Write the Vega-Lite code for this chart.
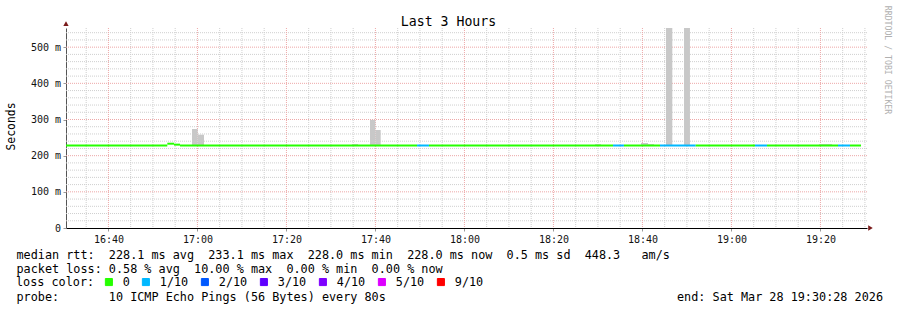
{
  "$schema": "https://vega.github.io/schema/vega-lite/v6.json",
  "width": 801,
  "height": 200,
  "autosize": {"type": "none"},
  "padding": {"left": 66, "top": 28, "right": 30, "bottom": 82},
  "background": "white",
  "config": {"view": {"stroke": null}, "font": "DejaVu Sans Mono"},
  "datasets": {
    "median": [
      {"start": "2026-03-28T16:30:28Z", "end": "2026-03-28T16:53:14Z", "rtt": 228.1, "loss": "0"},
      {"start": "2026-03-28T16:53:14Z", "end": "2026-03-28T16:54:44Z", "rtt": 233.1, "loss": "0"},
      {"start": "2026-03-28T16:54:44Z", "end": "2026-03-28T16:56:05Z", "rtt": 230.5, "loss": "0"},
      {"start": "2026-03-28T16:56:05Z", "end": "2026-03-28T17:49:21Z", "rtt": 228.1, "loss": "0"},
      {"start": "2026-03-28T17:49:21Z", "end": "2026-03-28T17:52:02Z", "rtt": 228.1, "loss": "1/10"},
      {"start": "2026-03-28T17:52:02Z", "end": "2026-03-28T18:33:23Z", "rtt": 228.1, "loss": "0"},
      {"start": "2026-03-28T18:33:23Z", "end": "2026-03-28T18:35:51Z", "rtt": 228.1, "loss": "1/10"},
      {"start": "2026-03-28T18:35:51Z", "end": "2026-03-28T18:43:57Z", "rtt": 228.1, "loss": "0"},
      {"start": "2026-03-28T18:43:57Z", "end": "2026-03-28T18:51:58Z", "rtt": 228.1, "loss": "1/10"},
      {"start": "2026-03-28T18:51:58Z", "end": "2026-03-28T19:05:18Z", "rtt": 228.1, "loss": "0"},
      {"start": "2026-03-28T19:05:18Z", "end": "2026-03-28T19:08:00Z", "rtt": 228.1, "loss": "1/10"},
      {"start": "2026-03-28T19:08:00Z", "end": "2026-03-28T19:23:57Z", "rtt": 228.1, "loss": "0"},
      {"start": "2026-03-28T19:23:57Z", "end": "2026-03-28T19:26:39Z", "rtt": 228.1, "loss": "1/10"},
      {"start": "2026-03-28T19:26:39Z", "end": "2026-03-28T19:29:07Z", "rtt": 228.1, "loss": "0"}
    ],
    "smoke": [
      {"start": "2026-03-28T16:58:47Z", "end": "2026-03-28T17:00:04Z", "lo": 226.5, "hi": 274},
      {"start": "2026-03-28T17:00:04Z", "end": "2026-03-28T17:01:29Z", "lo": 226.5, "hi": 258},
      {"start": "2026-03-28T17:34:44Z", "end": "2026-03-28T17:36:05Z", "lo": 226.5, "hi": 232},
      {"start": "2026-03-28T17:38:47Z", "end": "2026-03-28T17:39:59Z", "lo": 226.5, "hi": 299},
      {"start": "2026-03-28T17:39:59Z", "end": "2026-03-28T17:41:11Z", "lo": 226.5, "hi": 271},
      {"start": "2026-03-28T18:29:21Z", "end": "2026-03-28T18:30:41Z", "lo": 226.5, "hi": 232},
      {"start": "2026-03-28T18:39:41Z", "end": "2026-03-28T18:41:15Z", "lo": 226.5, "hi": 235},
      {"start": "2026-03-28T18:41:15Z", "end": "2026-03-28T18:42:36Z", "lo": 226.5, "hi": 232},
      {"start": "2026-03-28T18:45:18Z", "end": "2026-03-28T18:46:43Z", "lo": 226.5, "hi": 700},
      {"start": "2026-03-28T18:49:21Z", "end": "2026-03-28T18:50:41Z", "lo": 226.5, "hi": 700},
      {"start": "2026-03-28T19:19:41Z", "end": "2026-03-28T19:22:36Z", "lo": 226.5, "hi": 232}
    ],
    "gridMinorX": [
      {"t": "2026-03-28T16:35:00Z"}, {"t": "2026-03-28T16:45:00Z"}, {"t": "2026-03-28T16:50:00Z"}, {"t": "2026-03-28T16:55:00Z"},
      {"t": "2026-03-28T17:05:00Z"}, {"t": "2026-03-28T17:10:00Z"}, {"t": "2026-03-28T17:15:00Z"},
      {"t": "2026-03-28T17:25:00Z"}, {"t": "2026-03-28T17:30:00Z"}, {"t": "2026-03-28T17:35:00Z"},
      {"t": "2026-03-28T17:45:00Z"}, {"t": "2026-03-28T17:50:00Z"}, {"t": "2026-03-28T17:55:00Z"},
      {"t": "2026-03-28T18:05:00Z"}, {"t": "2026-03-28T18:10:00Z"}, {"t": "2026-03-28T18:15:00Z"},
      {"t": "2026-03-28T18:25:00Z"}, {"t": "2026-03-28T18:30:00Z"}, {"t": "2026-03-28T18:35:00Z"},
      {"t": "2026-03-28T18:45:00Z"}, {"t": "2026-03-28T18:50:00Z"}, {"t": "2026-03-28T18:55:00Z"},
      {"t": "2026-03-28T19:05:00Z"}, {"t": "2026-03-28T19:10:00Z"}, {"t": "2026-03-28T19:15:00Z"},
      {"t": "2026-03-28T19:25:00Z"}, {"t": "2026-03-28T19:30:00Z"}
    ],
    "gridMajorX": [
      {"t": "2026-03-28T16:40:00Z"}, {"t": "2026-03-28T17:00:00Z"}, {"t": "2026-03-28T17:20:00Z"},
      {"t": "2026-03-28T17:40:00Z"}, {"t": "2026-03-28T18:00:00Z"}, {"t": "2026-03-28T18:20:00Z"},
      {"t": "2026-03-28T18:40:00Z"}, {"t": "2026-03-28T19:00:00Z"}, {"t": "2026-03-28T19:20:00Z"}
    ],
    "gridMinorY": [
      {"v": 20}, {"v": 40}, {"v": 60}, {"v": 80},
      {"v": 120}, {"v": 140}, {"v": 160}, {"v": 180},
      {"v": 220}, {"v": 240}, {"v": 260}, {"v": 280},
      {"v": 320}, {"v": 340}, {"v": 360}, {"v": 380},
      {"v": 420}, {"v": 440}, {"v": 460}, {"v": 480},
      {"v": 520}, {"v": 540}
    ],
    "gridMajorY": [{"v": 100}, {"v": 200}, {"v": 300}, {"v": 400}, {"v": 500}]
  },
  "resolve": {"axis": {"x": "independent", "y": "independent"}},
  "layer": [
    {
      "data": {"name": "gridMinorX"},
      "mark": {"type": "rule", "color": "#cfcfcf", "strokeWidth": 1, "strokeDash": [1, 1]},
      "encoding": {
        "x": {"field": "t", "type": "temporal", "axis": null,
              "scale": {"type": "utc", "nice": false, "domain": [{"year": 2026, "month": 3, "date": 28, "hours": 16, "minutes": 30, "seconds": 28, "utc": true}, {"year": 2026, "month": 3, "date": 28, "hours": 19, "minutes": 30, "seconds": 28, "utc": true}]}}
      }
    },
    {
      "data": {"name": "gridMinorY"},
      "mark": {"type": "rule", "color": "#cfcfcf", "strokeWidth": 1, "strokeDash": [1, 1]},
      "encoding": {
        "y": {"field": "v", "type": "quantitative", "axis": null, "scale": {"domain": [0, 553], "nice": false, "zero": true}}
      }
    },
    {
      "data": {"name": "gridMajorX"},
      "mark": {"type": "rule", "color": "#eda8a8", "strokeWidth": 1, "strokeDash": [1, 1]},
      "encoding": {
        "x": {"field": "t", "type": "temporal", "axis": null,
              "scale": {"type": "utc", "nice": false, "domain": [{"year": 2026, "month": 3, "date": 28, "hours": 16, "minutes": 30, "seconds": 28, "utc": true}, {"year": 2026, "month": 3, "date": 28, "hours": 19, "minutes": 30, "seconds": 28, "utc": true}]}}
      }
    },
    {
      "data": {"name": "gridMajorY"},
      "mark": {"type": "rule", "color": "#eda8a8", "strokeWidth": 1, "strokeDash": [1, 1]},
      "encoding": {
        "y": {"field": "v", "type": "quantitative", "axis": null, "scale": {"domain": [0, 553], "nice": false, "zero": true}}
      }
    },
    {
      "data": {"name": "smoke"},
      "mark": {"type": "rect", "color": "#c8c8c8", "clip": true},
      "encoding": {
        "x": {"field": "start", "type": "temporal",
              "scale": {"type": "utc", "nice": false, "domain": [{"year": 2026, "month": 3, "date": 28, "hours": 16, "minutes": 30, "seconds": 28, "utc": true}, {"year": 2026, "month": 3, "date": 28, "hours": 19, "minutes": 30, "seconds": 28, "utc": true}]},
              "axis": {"orient": "top", "title": "Last 3 Hours", "labels": false, "ticks": false, "domain": false, "grid": false,
                       "titleX": 382, "titleY": -3, "titleAlign": "center", "titleBaseline": "alphabetic", "titleAngle": 0,
                       "titleFont": "DejaVu Sans Mono", "titleFontSize": 13.2, "titleFontWeight": "normal", "titleColor": "#000"}},
        "x2": {"field": "end"},
        "y": {"field": "lo", "type": "quantitative",
              "scale": {"domain": [0, 553], "nice": false, "zero": true},
              "axis": {"orient": "right", "title": "RRDTOOL / TOBI OETIKER", "labels": false, "ticks": false, "domain": false, "grid": false,
                       "titleX": 19, "titleY": 31.5, "titleAngle": 90, "titleAlign": "center", "titleBaseline": "middle",
                       "titleFont": "DejaVu Sans Mono", "titleFontSize": 8.2, "titleFontWeight": "normal", "titleColor": "#b0b0b0"}},
        "y2": {"field": "hi"}
      }
    },
    {
      "data": {"name": "median"},
      "mark": {"type": "rule", "strokeWidth": 2, "strokeCap": "butt"},
      "encoding": {
        "x": {"field": "start", "type": "temporal",
              "scale": {"type": "utc", "nice": false, "domain": [{"year": 2026, "month": 3, "date": 28, "hours": 16, "minutes": 30, "seconds": 28, "utc": true}, {"year": 2026, "month": 3, "date": 28, "hours": 19, "minutes": 30, "seconds": 28, "utc": true}]},
              "axis": {"orient": "bottom", "format": "%H:%M",
                       "values": [
                         {"year": 2026, "month": 3, "date": 28, "hours": 16, "minutes": 40, "utc": true},
                         {"year": 2026, "month": 3, "date": 28, "hours": 17, "minutes": 0, "utc": true},
                         {"year": 2026, "month": 3, "date": 28, "hours": 17, "minutes": 20, "utc": true},
                         {"year": 2026, "month": 3, "date": 28, "hours": 17, "minutes": 40, "utc": true},
                         {"year": 2026, "month": 3, "date": 28, "hours": 18, "minutes": 0, "utc": true},
                         {"year": 2026, "month": 3, "date": 28, "hours": 18, "minutes": 20, "utc": true},
                         {"year": 2026, "month": 3, "date": 28, "hours": 18, "minutes": 40, "utc": true},
                         {"year": 2026, "month": 3, "date": 28, "hours": 19, "minutes": 0, "utc": true},
                         {"year": 2026, "month": 3, "date": 28, "hours": 19, "minutes": 20, "utc": true}
                       ],
                       "grid": false,
                       "domainColor": "#000", "domainWidth": 1, "tickColor": "#999", "tickSize": 3,
                       "labelFont": "DejaVu Sans Mono", "labelFontSize": 10, "labelColor": "#111", "labelPadding": 3,
                       "labelAngle": 0, "labelFlush": false,
                       "title": [
                         "median rtt:\u00a0\u00a0228.1 ms avg\u00a0\u00a0233.1 ms max\u00a0\u00a0228.0 ms min\u00a0\u00a0228.0 ms now\u00a0\u00a00.5 ms sd\u00a0\u00a0448.3\u00a0\u00a0\u00a0am/s",
                         "packet loss: 0.58 % avg\u00a0\u00a010.00 % max\u00a0\u00a00.00 % min\u00a0\u00a00.00 % now",
                         "\u200b",
                         "probe:\u00a0\u00a0\u00a0\u00a0\u00a0\u00a0\u00a010 ICMP Echo Pings (56 Bytes) every 80s\u00a0\u00a0\u00a0\u00a0\u00a0\u00a0\u00a0\u00a0\u00a0\u00a0\u00a0\u00a0\u00a0\u00a0\u00a0\u00a0\u00a0\u00a0\u00a0\u00a0\u00a0\u00a0\u00a0\u00a0\u00a0\u00a0\u00a0\u00a0\u00a0\u00a0\u00a0\u00a0\u00a0\u00a0\u00a0\u00a0\u00a0\u00a0\u00a0\u00a0\u00a0end: Sat Mar 28 19:30:28 2026"
                       ],
                       "titleX": -50, "titleY": 30.3, "titleAlign": "left", "titleBaseline": "alphabetic", "titleLineHeight": 14,
                       "titleFont": "DejaVu Sans Mono", "titleFontSize": 11.8, "titleFontWeight": "normal", "titleColor": "#000"}},
        "x2": {"field": "end"},
        "y": {"field": "rtt", "type": "quantitative",
              "scale": {"domain": [0, 553], "nice": false, "zero": true},
              "axis": {"orient": "left", "values": [0, 100, 200, 300, 400, 500], "grid": false,
                       "labelExpr": "datum.value === 0 ? '0' : datum.value + ' m'",
                       "domainColor": "#555", "domainWidth": 1, "tickColor": "#999", "tickSize": 3,
                       "labelFont": "DejaVu Sans Mono", "labelFontSize": 10, "labelColor": "#111", "labelPadding": 2.5,
                       "title": "Seconds", "titleX": -55, "titleY": 98, "titleAngle": -90, "titleAlign": "center", "titleBaseline": "middle",
                       "titleFont": "DejaVu Sans Mono", "titleFontSize": 11.4, "titleFontWeight": "normal", "titleColor": "#000"}},
        "color": {"field": "loss", "type": "nominal",
                  "scale": {"domain": ["0", "1/10", "2/10", "3/10", "4/10", "5/10", "9/10"],
                            "range": ["#26ff00", "#00b8ff", "#0059ff", "#5e00ff", "#7e00ff", "#dd00ff", "#ff0000"]},
                  "legend": {"orient": "none", "legendX": -50, "legendY": 248, "direction": "horizontal",
                             "title": "loss color:", "titleOrient": "left", "titlePadding": 8,
                             "titleFont": "DejaVu Sans Mono", "titleFontSize": 11.8, "titleFontWeight": "normal", "titleColor": "#000",
                             "symbolType": "square", "symbolSize": 50, "symbolStrokeWidth": 1,
                             "labelFont": "DejaVu Sans Mono", "labelFontSize": 11.8, "labelColor": "#000", "labelOffset": 8, "columnPadding": 10,
                             "encode": {"symbols": {"update": {"fill": {"scale": "color", "field": "value"}, "stroke": {"value": "#000"}}}}}}
      }
    },
    {
      "data": {"values": [{}]},
      "mark": {"type": "point", "shape": "triangle-up", "filled": true, "size": 28, "color": "#7a1a1a", "opacity": 1},
      "encoding": {
        "x": {"datum": {"year": 2026, "month": 3, "date": 28, "hours": 16, "minutes": 30, "seconds": 28, "utc": true}, "type": "temporal", "axis": null,
              "scale": {"type": "utc", "nice": false, "domain": [{"year": 2026, "month": 3, "date": 28, "hours": 16, "minutes": 30, "seconds": 28, "utc": true}, {"year": 2026, "month": 3, "date": 28, "hours": 19, "minutes": 30, "seconds": 28, "utc": true}]}},
        "y": {"datum": 565, "type": "quantitative", "axis": null, "scale": {"domain": [0, 553], "nice": false, "zero": true}}
      }
    },
    {
      "data": {"values": [{}]},
      "mark": {"type": "point", "shape": "triangle-right", "filled": true, "size": 28, "color": "#7a1a1a", "opacity": 1},
      "encoding": {
        "x": {"datum": {"year": 2026, "month": 3, "date": 28, "hours": 19, "minutes": 31, "seconds": 15, "utc": true}, "type": "temporal", "axis": null,
              "scale": {"type": "utc", "nice": false, "domain": [{"year": 2026, "month": 3, "date": 28, "hours": 16, "minutes": 30, "seconds": 28, "utc": true}, {"year": 2026, "month": 3, "date": 28, "hours": 19, "minutes": 30, "seconds": 28, "utc": true}]}},
        "y": {"datum": 0, "type": "quantitative", "axis": null, "scale": {"domain": [0, 553], "nice": false, "zero": true}}
      }
    }
  ]
}
